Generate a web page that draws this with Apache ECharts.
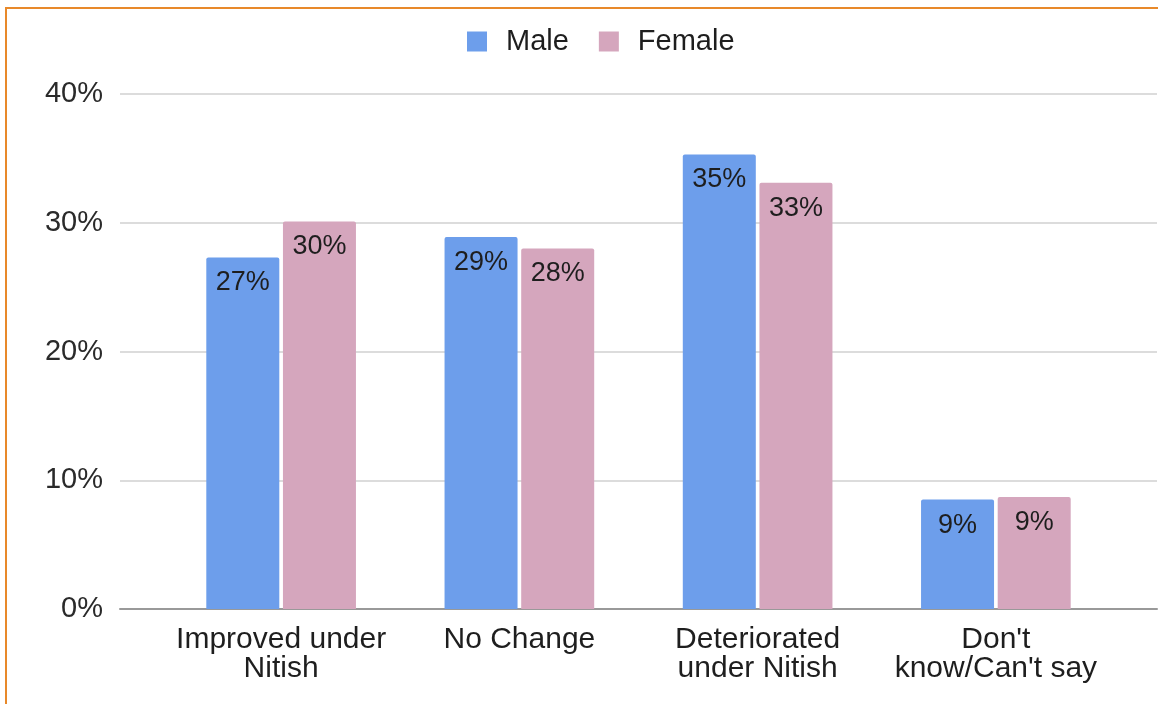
<!DOCTYPE html>
<html>
<head>
<meta charset="utf-8">
<script src="https://cdn.jsdelivr.net/npm/echarts@6/dist/echarts.min.js"></script>
<style>
  html, body { margin: 0; padding: 0; background: #fff; }
  #main { width: 1158px; height: 704px; position: relative; }
  .frame { position: absolute; left: 5px; top: 7px; right: -10px; bottom: -10px;
           border-left: 2px solid #e8892a; border-top: 2px solid #e8892a; pointer-events: none; z-index: 5; }
</style>
</head>
<body>
<div id="main"></div>
<div class="frame"></div>
<script>
// categories and values (percent)
var categories = ['Improved under\nNitish', 'No Change', 'Deteriorated\nunder Nitish', "Don't\nknow/Can't say"];
var maleValues = [27.3, 28.9, 35.3, 8.5];
var femaleValues = [30.1, 28.0, 33.1, 8.7];
var yTicks = [0, 10, 20, 30, 40];

var labelFmt = function(p){ return Math.round(p.value) + '%'; };
var font = 'Liberation Sans, Arial, sans-serif';

var chart = echarts.init(document.getElementById('main'), null, {renderer: 'canvas'});
chart.setOption({
  animation: false,
  textStyle: { fontFamily: font },
  legend: {
    left: 462, top: 22,
    itemWidth: 20, itemHeight: 20, itemGap: 30,
    icon: 'rect',
    textStyle: { fontSize: 29, color: '#1e1e1e', fontFamily: font, padding: [0, 0, 0, 14] },
    data: ['Male', 'Female']
  },
  grid: [
    // gridlines / y labels
    { left: 120, right: 1, top: 94, bottom: 95 },
    // bars
    { left: 162, right: 43, top: 94, bottom: 95 }
  ],
  xAxis: [
    { gridIndex: 0, type: 'category', data: [''],
      axisLine: { lineStyle: { color: '#999', width: 2 } },
      axisTick: { show: false }, axisLabel: { show: false } },
    { gridIndex: 1, type: 'category', data: categories,
      axisLine: { show: false }, axisTick: { show: false },
      axisLabel: { fontSize: 30, color: '#1e1e1e', lineHeight: 29, margin: 16, interval: 0, fontFamily: font } }
  ],
  yAxis: [
    { gridIndex: 0, type: 'value', min: yTicks[0], max: yTicks[yTicks.length - 1], interval: 10,
      axisLine: { show: false }, axisTick: { show: false },
      splitLine: { lineStyle: { color: '#dcdcdc', width: 2 } },
      axisLabel: { formatter: '{value}%', fontSize: 29, color: '#2a2a2a', margin: 17, fontFamily: font } },
    { gridIndex: 1, type: 'value', min: yTicks[0], max: yTicks[yTicks.length - 1], interval: 10,
      show: false, splitLine: { show: false } }
  ],
  series: [
    { name: 'Male', type: 'bar', xAxisIndex: 1, yAxisIndex: 1,
      data: maleValues, barWidth: 73, barGap: '5%',
      itemStyle: { color: '#6d9eeb', borderRadius: [2, 2, 0, 0] },
      label: { show: true, position: 'insideTop', distance: 12, formatter: labelFmt,
               fontSize: 27, color: '#1e1e1e', fontFamily: font } },
    { name: 'Female', type: 'bar', xAxisIndex: 1, yAxisIndex: 1,
      data: femaleValues, barWidth: 73, barGap: '5%',
      itemStyle: { color: '#d5a6bd', borderRadius: [2, 2, 0, 0] },
      label: { show: true, position: 'insideTop', distance: 12, formatter: labelFmt,
               fontSize: 27, color: '#1e1e1e', fontFamily: font } }
  ]
});
</script>
</body>
</html>
